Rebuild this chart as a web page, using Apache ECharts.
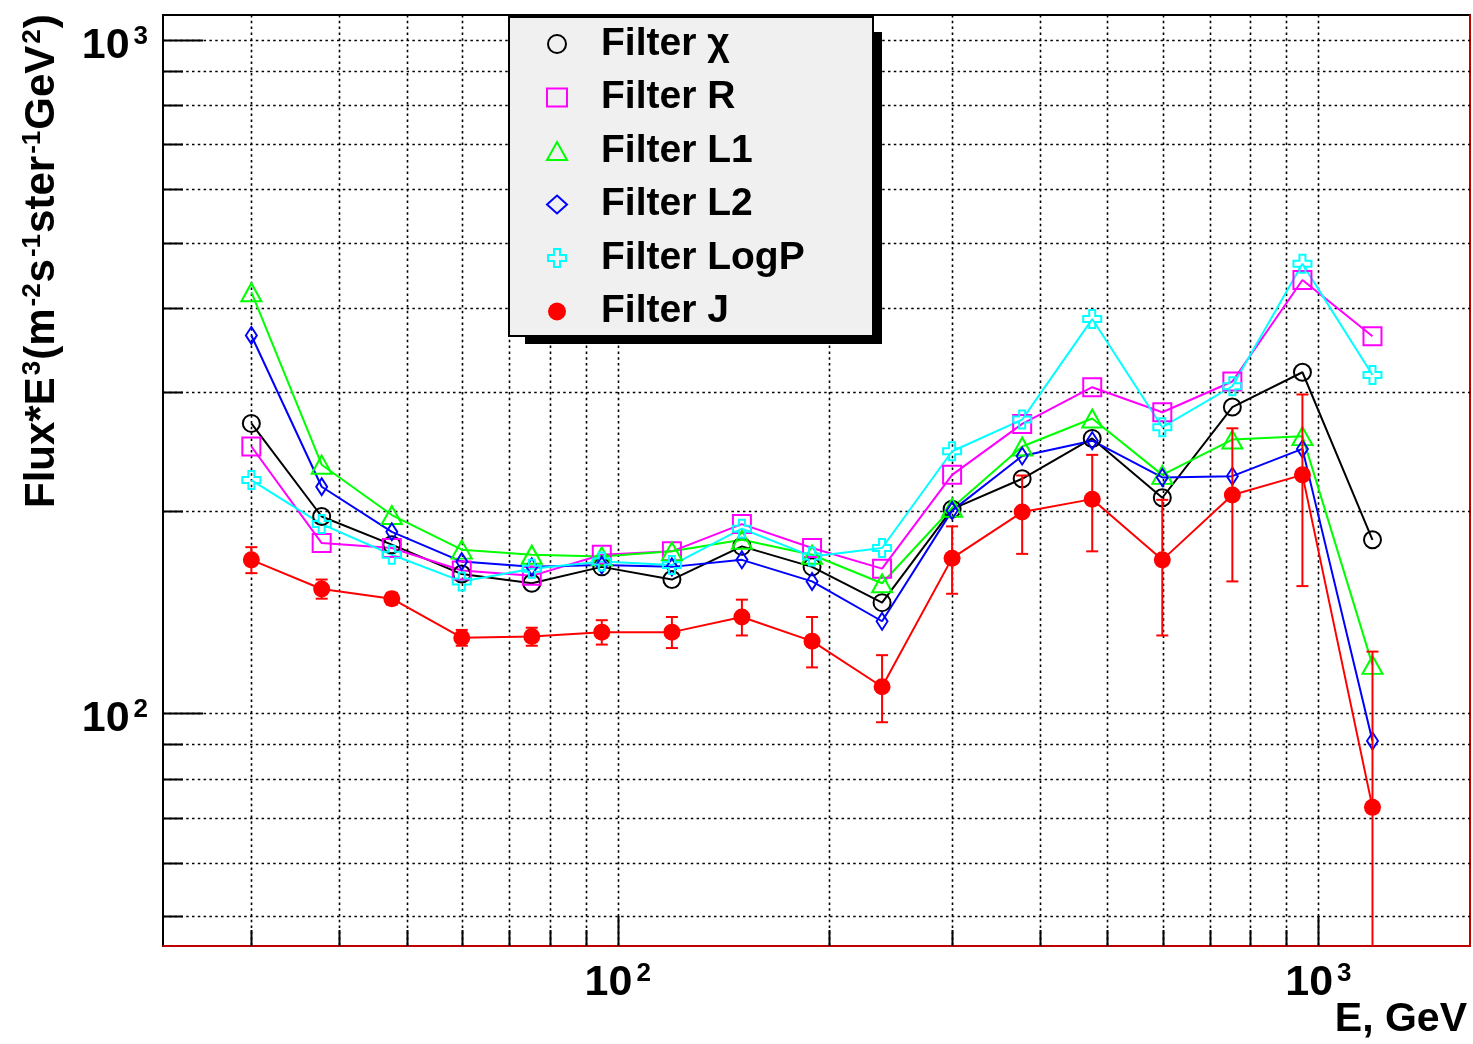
<!DOCTYPE html>
<html>
<head>
<meta charset="utf-8">
<title>Flux*E^3 vs E</title>
<script src="https://cdn.jsdelivr.net/npm/echarts@6/dist/echarts.min.js"></script>
<style>
  html, body { margin: 0; padding: 0; background: #ffffff; }
  #chart { width: 1473px; height: 1044px; }
</style>
</head>
<body>
<div id="chart"></div>
<script>
// Energy bin centres, GeV
const energies = [30.0, 37.8, 47.6, 59.9, 75.4, 94.9, 119.5, 150.4, 189.4, 238.4,
                  300.1, 377.8, 475.6, 598.8, 753.8, 949.0, 1194.7];

// Flux*E^3 for each filter
const fluxChi  = [269.5, 196, 178, 161, 156, 165, 158, 177, 165, 146, 201, 223, 256, 209, 285, 321, 181];
const fluxR    = [249, 179, 176, 163, 160, 172, 174, 191, 176, 164, 226, 269, 305, 280, 311, 440, 363];
const fluxL1   = [422, 234, 197, 175, 172, 171, 174, 181, 172, 156, 202, 249, 274, 226, 255, 258, 118];
const fluxL2   = [364, 217, 186, 168, 165, 166, 165, 169, 157, 137, 200, 241, 254, 224, 225, 247, 91];
const fluxLogP = [222, 191, 172, 157, 164, 168, 166, 188, 171, 176, 245, 273, 385, 266, 306, 465, 318];
const fluxJ    = [169, 153, 148, 129.5, 130, 132, 132, 139, 128, 109.5, 170, 199, 208, 169, 211, 226, 72.5];
const errJ     = [7.5, 5, 3, 3.5, 4, 5.5, 7, 8.5, 11, 12.5, 19.5, 26.5, 34, 38.5, 54, 71.5, 51];

// Grid / tick positions (log decades with 2..9 subdivisions)
const xGridValues = [30, 40, 50, 60, 70, 80, 90, 100, 200, 300, 400, 500, 600, 700, 800, 900, 1000];
const yGridValues = [50, 60, 70, 80, 90, 100, 200, 300, 400, 500, 600, 700, 800, 900, 1000];

const seriesNames = ['Filter χ', 'Filter R', 'Filter L1', 'Filter L2', 'Filter LogP', 'Filter J'];

const X_MIN = 22.44, X_MAX = 1646;
const Y_MIN = 45.13, Y_MAX = 1089;

const FONT = "'Liberation Sans', Arial, Helvetica, sans-serif";
const CROSS = 'path://M1,0L2,0L2,1L3,1L3,2L2,2L2,3L1,3L1,2L0,2L0,1L1,1Z';

// legend box geometry
const LEG_X = 509, LEG_Y = 17, LEG_W = 364, LEG_H = 319;

function isPow10(v) {
  const e = Math.log10(v);
  return Math.abs(e - Math.round(e)) < 1e-6;
}
function powLabel(v) {
  if (!isPow10(v)) return '';
  return '{m|10}{s|' + Math.round(Math.log10(v)) + '}';
}
const powRich = {
  m: { fontSize: 43, fontWeight: 'bold', fontFamily: FONT, lineHeight: 32, padding: [12, 0, 0, 0], color: '#000' },
  s: { fontSize: 26, fontWeight: 'bold', fontFamily: FONT, lineHeight: 26, verticalAlign: 'top', padding: [0, 0, 0, 4], color: '#000' }
};

const pairs = (ys) => energies.map((e, i) => [e, ys[i]]);

const gridDash = { stroke: '#000', lineWidth: 1.6, lineDash: [2.5, 3.3] };
const tickStyle = { stroke: '#000', lineWidth: 2 };

// vertical grid lines + ticks along the bottom edge
function renderXGrid(params, api) {
  const cs = params.coordSys;
  const v = api.value(0);
  const px = Math.round(api.coord([v, 100])[0]) + 0.5;
  const bottom = cs.y + cs.height;
  const len = isPow10(v) ? 30 : 16;
  return {
    type: 'group',
    children: [
      { type: 'line', shape: { x1: px, y1: cs.y, x2: px, y2: bottom }, style: gridDash },
      { type: 'line', shape: { x1: px, y1: bottom, x2: px, y2: bottom - len }, style: tickStyle }
    ]
  };
}
// horizontal grid lines + ticks along the left edge
function renderYGrid(params, api) {
  const cs = params.coordSys;
  const v = api.value(1);
  const py = Math.round(api.coord([100, v])[1]) + 0.5;
  const len = isPow10(v) ? 40 : 20;
  return {
    type: 'group',
    children: [
      { type: 'line', shape: { x1: cs.x, y1: py, x2: cs.x + cs.width, y2: py }, style: gridDash },
      { type: 'line', shape: { x1: cs.x, y1: py, x2: cs.x + len, y2: py }, style: tickStyle }
    ]
  };
}
// symmetric error bars, cut at the lower frame edge
function renderErr(params, api) {
  const cs = params.coordSys;
  const x = api.value(0), y = api.value(1), e = api.value(2);
  const bottom = cs.y + cs.height;
  const top = api.coord([x, y + e]);
  const lo = y - e;
  const botPt = lo > 0 ? api.coord([x, lo]) : [top[0], bottom + 10];
  const yb = Math.min(botPt[1], bottom);
  const st = { stroke: '#ff0000', lineWidth: 2 };
  const half = 6;
  const children = [
    { type: 'line', shape: { x1: top[0], y1: top[1], x2: top[0], y2: yb }, style: st },
    { type: 'line', shape: { x1: top[0] - half, y1: top[1], x2: top[0] + half, y2: top[1] }, style: st }
  ];
  if (botPt[1] <= bottom) {
    children.push({ type: 'line', shape: { x1: top[0] - half, y1: botPt[1], x2: top[0] + half, y2: botPt[1] }, style: st });
  }
  return { type: 'group', children: children };
}

function lineSeries(name, data, color, symbol, size, filled, z) {
  return {
    name: name,
    type: 'line',
    data: pairs(data),
    symbol: symbol,
    symbolSize: size,
    showAllSymbol: true,
    lineStyle: { color: color, width: 2 },
    itemStyle: filled
      ? { color: color, borderWidth: 0 }
      : { color: 'transparent', borderColor: color, borderWidth: 2 },
    emphasis: { disabled: true },
    animation: false,
    z: z
  };
}

const chart = echarts.init(document.getElementById('chart'), null, { renderer: 'canvas' });

chart.setOption({
  backgroundColor: '#ffffff',
  animation: false,
  grid: {
    left: 163, top: 15, width: 1307, height: 931,
    outerBoundsMode: 'none',
    containLabel: false,
    show: true, borderColor: '#000', borderWidth: 2, backgroundColor: '#ffffff'
  },
  xAxis: {
    type: 'log', logBase: 10, min: X_MIN, max: X_MAX,
    name: 'E, GeV', nameLocation: 'end', nameGap: -3,
    nameMoveOverlap: false,
    nameTextStyle: {
      fontFamily: FONT, fontWeight: 'bold', fontSize: 41, color: '#000',
      align: 'right', verticalAlign: 'top', lineHeight: 40, padding: [54, 0, 0, 0]
    },
    axisLine: { show: true, onZero: false, lineStyle: { color: '#ff0000', width: 1.5 } },
    axisTick: { show: false },
    splitLine: { show: false },
    axisLabel: { margin: 15, formatter: powLabel, rich: powRich, fontFamily: FONT, showMinLabel: false, showMaxLabel: false }
  },
  yAxis: [{
    type: 'log', logBase: 10, min: Y_MIN, max: Y_MAX,
    axisLine: { show: false },
    axisTick: { show: false },
    splitLine: { show: false },
    axisLabel: { margin: 15, formatter: powLabel, rich: powRich, fontFamily: FONT, showMinLabel: false, showMaxLabel: false }
  }, {
    type: 'log', logBase: 10, min: Y_MIN, max: Y_MAX, position: 'right',
    axisLine: { show: true, onZero: false, lineStyle: { color: '#ff0000', width: 1.5 } },
    axisTick: { show: false },
    splitLine: { show: false },
    axisLabel: { show: false }
  }],
  legend: {
    orient: 'vertical',
    left: LEG_X, top: LEG_Y,
    padding: [7, 70, 5, 37],
    itemGap: 13.5,
    itemWidth: 20, itemHeight: 18,
    symbolKeepAspect: true,
    selectedMode: false,
    z: 6,
    textStyle: { fontFamily: FONT, fontWeight: 'bold', fontSize: 39, color: '#000', lineHeight: 40, padding: [0, 0, 0, 29] },
    data: [
      { name: seriesNames[0], icon: 'circle', itemStyle: { color: 'transparent', borderColor: '#000000', borderWidth: 2 } },
      { name: seriesNames[1], icon: 'rect', itemStyle: { color: 'transparent', borderColor: '#ff00ff', borderWidth: 2 } },
      { name: seriesNames[2], icon: 'triangle', itemStyle: { color: 'transparent', borderColor: '#00ff00', borderWidth: 2 } },
      { name: seriesNames[3], icon: 'diamond', itemStyle: { color: 'transparent', borderColor: '#0000ff', borderWidth: 2 } },
      { name: seriesNames[4], icon: CROSS, itemStyle: { color: 'transparent', borderColor: '#00ffff', borderWidth: 2 } },
      { name: seriesNames[5], icon: 'circle', itemStyle: { color: '#ff0000', borderWidth: 0 } }
    ]
  },
  graphic: [
    // legend panel: drop shadow and framed grey box
    {
      type: 'rect', z: 5, silent: true,
      shape: { x: LEG_X + 16, y: LEG_Y + 15, width: LEG_W - 7, height: LEG_H - 7 },
      style: { fill: '#000' }
    },
    {
      type: 'rect', z: 5, silent: true,
      shape: { x: LEG_X, y: LEG_Y, width: LEG_W, height: LEG_H },
      style: { fill: '#f0f0f0', stroke: '#000', lineWidth: 2 }
    },
    // y-axis title
    {
      type: 'text',
      x: 36, y: 508,
      rotation: Math.PI / 2,
      silent: true,
      style: {
        text: '{m|Flux*E}{s|3}{m|(m}{s|-2}{m|s}{s|-1}{m|ster}{s|-1}{m|GeV}{s|2}{m|)}',
        align: 'left',
        verticalAlign: 'middle',
        fill: '#000',
        rich: {
          m: { fontSize: 42, fontWeight: 'bold', fontFamily: FONT, lineHeight: 32, padding: [12, 0, 0, 0], fill: '#000' },
          s: { fontSize: 26, fontWeight: 'bold', fontFamily: FONT, lineHeight: 26, verticalAlign: 'top', padding: [0, 1, 0, 2], fill: '#000' }
        }
      }
    }
  ],
  series: [
    {
      type: 'custom', name: 'xgrid', coordinateSystem: 'cartesian2d',
      data: xGridValues.map(v => [v, 100]), encode: { x: 0, y: 1 },
      renderItem: renderXGrid, silent: true, z: 1, animation: false
    },
    {
      type: 'custom', name: 'ygrid', coordinateSystem: 'cartesian2d',
      data: yGridValues.map(v => [100, v]), encode: { x: 0, y: 1 },
      renderItem: renderYGrid, silent: true, z: 1, animation: false
    },
    lineSeries(seriesNames[0], fluxChi, '#000000', 'circle', 17, false, 3),
    lineSeries(seriesNames[1], fluxR, '#ff00ff', 'rect', 18, false, 3),
    lineSeries(seriesNames[2], fluxL1, '#00ff00', 'triangle', [20, 18], false, 3),
    lineSeries(seriesNames[3], fluxL2, '#0000ff', 'diamond', [11, 17], false, 3),
    lineSeries(seriesNames[4], fluxLogP, '#00ffff', CROSS, 18, false, 3),
    {
      type: 'custom', name: 'J errors', coordinateSystem: 'cartesian2d',
      data: energies.map((e, i) => [e, fluxJ[i], errJ[i]]), encode: { x: 0, y: 1 },
      renderItem: renderErr, silent: true, z: 4, animation: false
    },
    lineSeries(seriesNames[5], fluxJ, '#ff0000', 'circle', 17, true, 4)
  ]
});
</script>
</body>
</html>
